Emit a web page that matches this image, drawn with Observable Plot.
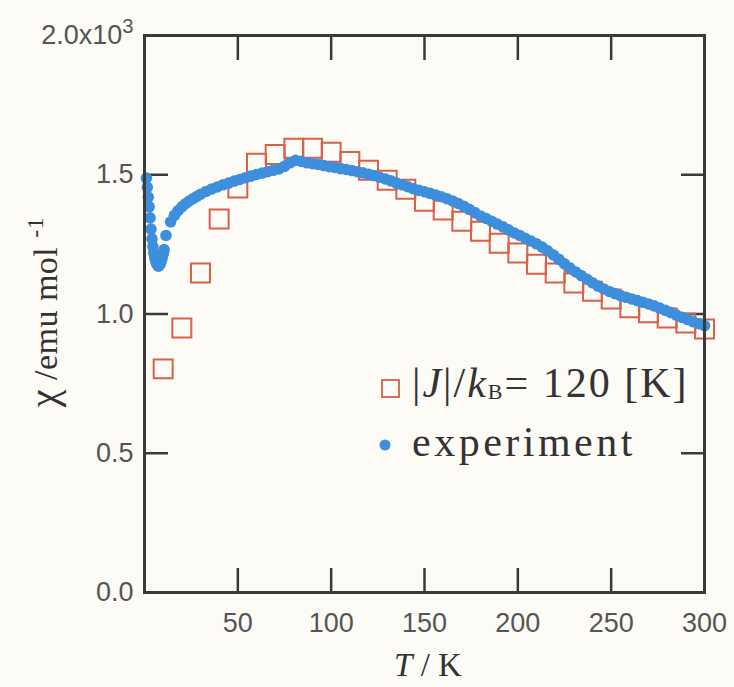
<!DOCTYPE html>
<html><head><meta charset="utf-8">
<script src="https://cdn.jsdelivr.net/npm/d3@7"></script>
<script src="https://cdn.jsdelivr.net/npm/@observablehq/plot@0.6"></script>
<style>
html,body{margin:0;padding:0;background:#fcfbf6;}
#chart{position:relative;width:734px;height:687px;}
</style></head><body><div id="chart"></div>
<script>
// Model |J|/kB = 120 K (open squares)
const modelT = [10,20,30,40,50,60,70,80,90,100,110,120,130,140,150,160,170,180,190,200,210,220,230,240,250,260,270,280,290,300];
const modelChi = [0.803,0.950,1.147,1.341,1.452,1.541,1.573,1.595,1.595,1.581,1.548,1.516,1.480,1.448,1.405,1.373,1.333,1.297,1.254,1.219,1.179,1.147,1.111,1.082,1.054,1.022,1.004,0.986,0.968,0.946];
// Experiment (filled dots)
const expT = [1,1.5,2,2.5,3,3.5,4,4.5,5,5.5,6,6.5,7,7.5,8,8.5,9,9.5,10,10.5,11.5,14,16,18,20,22,24,26,28,30,33,36,39,42,45,48,51,54,57,60,63,66,69,72,75,78,81,84,87,90,93,96,99,102,105,108,111,114,117,120,123,126,129,132,135,138,141,144,147,150,153,156,159,162,165,168,171,174,177,180,183,186,189,192,195,198,201,204,207,210,213,216,219,222,225,228,231,234,237,240,243,246,249,252,255,258,261,264,267,270,273,276,279,282,285,288,291,294,297,300];
const expChi = [1.488,1.455,1.420,1.385,1.345,1.305,1.270,1.242,1.220,1.202,1.190,1.181,1.175,1.172,1.175,1.181,1.191,1.203,1.216,1.231,1.282,1.331,1.354,1.371,1.385,1.396,1.406,1.414,1.422,1.430,1.440,1.449,1.456,1.464,1.470,1.477,1.483,1.489,1.495,1.501,1.506,1.511,1.516,1.521,1.530,1.543,1.552,1.548,1.543,1.540,1.537,1.533,1.529,1.526,1.522,1.519,1.515,1.511,1.507,1.502,1.497,1.491,1.485,1.478,1.470,1.464,1.457,1.450,1.444,1.439,1.433,1.427,1.421,1.414,1.406,1.397,1.387,1.376,1.364,1.352,1.343,1.333,1.323,1.313,1.302,1.291,1.282,1.272,1.262,1.252,1.240,1.227,1.212,1.196,1.180,1.165,1.151,1.138,1.125,1.112,1.100,1.090,1.081,1.073,1.066,1.060,1.054,1.048,1.042,1.036,1.029,1.021,1.013,1.005,0.996,0.988,0.980,0.972,0.965,0.958];

const xTickValues = [50,100,150,200,250,300];
const xInnerTicks = [50,100,150,200,250];
const yTickValues = [0,0.5,1.0,1.5,2.0];
const yTickLabels = ["0.0","0.5","1.0","1.5","2.0x10"];
const yInnerTicks = [0.5,1.0,1.5];
const legendModel = "120 [K]";
const legendExp = "experiment";

const model = modelT.map((T,i)=>({T, chi:modelChi[i]}));
const expt = expT.map((T,i)=>({T, chi:expChi[i]}));

const ink = "#3a3a3a";
const red = "#d9604a";
const blue = "#3e8fdb";

const plot = Plot.plot({
  width:734, height:687,
  marginLeft:144, marginRight:30, marginTop:35, marginBottom:95,
  style:{background:"transparent", fontFamily:"'Liberation Sans', Arial, sans-serif"},
  x:{domain:[0,300]},
  y:{domain:[0,2]},
  marks:[
    Plot.axisX({anchor:"bottom", ticks:xInnerTicks, tickSize:-24, fill:"none", stroke:ink, strokeWidth:2.5, label:null}),
    Plot.axisX({anchor:"top", ticks:xInnerTicks, tickSize:-24, fill:"none", stroke:ink, strokeWidth:2.5, label:null}),
    Plot.axisY({anchor:"left", ticks:yInnerTicks, tickSize:-24, fill:"none", stroke:ink, strokeWidth:2.5, label:null}),
    Plot.axisY({anchor:"right", ticks:yInnerTicks, tickSize:-24, fill:"none", stroke:ink, strokeWidth:2.5, label:null}),
    Plot.axisX({anchor:"bottom", ticks:xTickValues, tickSize:0, tickPadding:20, fontSize:27, fill:"#555", label:null, tickFormat:d=>String(d)}),
    Plot.axisY({anchor:"left", ticks:yTickValues, tickSize:0, tickPadding:11, fontSize:27, fill:"#555", label:null,
      tickFormat:d=>yTickLabels[yTickValues.indexOf(d)]}),
    Plot.dot(model, {x:"T", y:"chi", symbol:"square", r:10.7, stroke:red, strokeWidth:2, fill:"none"}),
    Plot.dot(expt, {x:"T", y:"chi", r:5.8, fill:blue, stroke:null}),
    Plot.frame({stroke:ink, strokeWidth:3})
  ]
});
document.getElementById("chart").appendChild(plot);

const svg = d3.select(plot);
// superscript on 2.0x10
svg.selectAll("text").filter(function(){return this.textContent==="2.0x10";})
  .append("tspan").attr("dy","-0.55em").attr("font-size","0.75em").text("3");

const serif = "'Liberation Serif', 'Times New Roman', serif";
// y-axis title
const yt = svg.append("text").attr("transform","translate(57,312) rotate(-90)")
  .attr("text-anchor","middle").attr("font-family",serif).attr("font-size",34).attr("fill","#333")
  .attr("letter-spacing","0.5");
yt.append("tspan").attr("font-size",40).text("χ");
yt.append("tspan").text(" /emu mol ");
yt.append("tspan").attr("dy","-0.6em").attr("font-size",24).text("-1");

// x-axis title
const xt = svg.append("text").attr("x",428).attr("y",676).attr("text-anchor","middle")
  .attr("font-family",serif).attr("font-size",33).attr("fill","#333");
xt.append("tspan").attr("font-style","italic").text("T");
xt.append("tspan").text(" / K");

// legend
svg.append("rect").attr("x",382).attr("y",380).attr("width",17).attr("height",17)
  .attr("fill","none").attr("stroke",red).attr("stroke-width",1.8);
svg.append("circle").attr("cx",385).attr("cy",445).attr("r",5.5).attr("fill",blue);
const l1 = svg.append("text").attr("x",412).attr("y",397).attr("text-anchor","start").attr("font-family",serif)
  .attr("font-size",42).attr("fill","#333").attr("letter-spacing","2");
l1.append("tspan").text("|");
l1.append("tspan").attr("font-style","italic").text("J");
l1.append("tspan").text("|/");
l1.append("tspan").attr("font-style","italic").text("k");
l1.append("tspan").attr("font-size",22).attr("dy","2").text("B");
l1.append("tspan").attr("dy","-2").text("= " + legendModel);
svg.append("text").attr("x",412).attr("y",456).attr("text-anchor","start").attr("font-family",serif)
  .attr("font-size",42).attr("fill","#333").attr("letter-spacing","3.5").text(legendExp);
</script>
</body></html>
